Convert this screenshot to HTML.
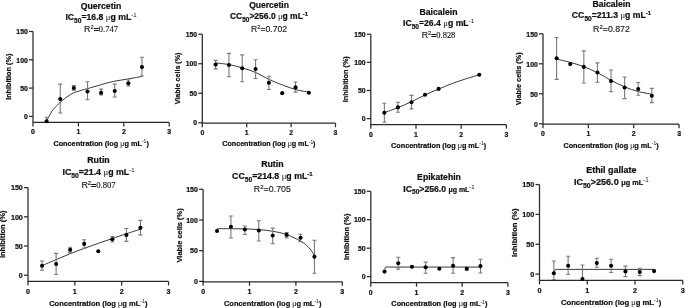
<!DOCTYPE html>
<html><head><meta charset="utf-8"><style>
html,body{-webkit-font-smoothing:antialiased;margin:0;padding:0;background:#fff;width:685px;height:308px;overflow:hidden}
svg{display:block;will-change:transform}
text{font-family:"Liberation Sans",sans-serif;fill:#111}
.b{font-weight:bold;stroke:#111;stroke-width:0.22px}
.n{stroke:none}
.n{font-weight:normal}
.r{font-weight:normal;fill:#111;stroke:#111;stroke-width:0.12px}
.sf{font-family:"Liberation Serif",serif;font-weight:normal}
.ax{stroke:#2a2a2a;stroke-width:1.25;fill:none}
.eb{stroke:#7a7a7a;stroke-width:1.1;fill:none}
.cv{stroke:#222;stroke-width:0.9;fill:none}
circle{fill:#000}
</style></head><body>
<svg width="685" height="308" viewBox="0 0 685 308">
<g>
<path d="M33 31.5V122.46H169.2" class="ax"/>
<path d="M29 116.4H33" class="ax"/>
<text x="27.8" y="119.1" class="b" style="font-size:6.90px" text-anchor="end">0</text>
<path d="M29 88.1H33" class="ax"/>
<text x="27.8" y="90.8" class="b" style="font-size:6.90px" text-anchor="end">50</text>
<path d="M29 59.8H33" class="ax"/>
<text x="27.8" y="62.5" class="b" style="font-size:6.90px" text-anchor="end">100</text>
<path d="M29 31.5H33" class="ax"/>
<text x="27.8" y="34.2" class="b" style="font-size:6.90px" text-anchor="end">150</text>
<path d="M33 122.46V126.46" class="ax"/>
<text x="33" y="134.46" class="b" style="font-size:6.90px" text-anchor="middle">0</text>
<path d="M78.4 122.46V126.46" class="ax"/>
<text x="78.4" y="134.46" class="b" style="font-size:6.90px" text-anchor="middle">1</text>
<path d="M123.8 122.46V126.46" class="ax"/>
<text x="123.8" y="134.46" class="b" style="font-size:6.90px" text-anchor="middle">2</text>
<path d="M169.2 122.46V126.46" class="ax"/>
<text x="169.2" y="134.46" class="b" style="font-size:6.90px" text-anchor="middle">3</text>
<text x="101.1" y="145.86" class="b" style="font-size:7.30px" text-anchor="middle">Concentration (log <tspan class="n" style="font-weight:normal">&#956;</tspan>g mL<tspan class="n" style="font-size:5.00px" dy="-2.5">-1</tspan><tspan dy="2.5">)</tspan></text>
<text transform="translate(11 76.78) rotate(-90)" class="b" style="font-size:7.30px" text-anchor="middle">Inhibition (%)</text>
<path d="M46.20 121.80 C46.60 121.07 47.73 119.02 48.60 117.40 C49.47 115.78 50.45 113.62 51.40 112.10 C52.35 110.58 52.80 109.97 54.30 108.30 C55.80 106.63 58.02 104.20 60.40 102.10 C62.78 100.00 66.05 97.37 68.60 95.70 C71.15 94.03 72.53 93.28 75.70 92.10 C78.87 90.92 83.55 89.78 87.60 88.60 C91.65 87.42 96.38 86.03 100.00 85.00 C103.62 83.97 106.30 83.13 109.30 82.40 C112.30 81.67 115.12 81.13 118.00 80.60 C120.88 80.07 123.85 79.67 126.60 79.20 C129.35 78.73 131.92 78.27 134.50 77.80 C137.08 77.33 140.83 76.63 142.10 76.40" class="cv"/>
<path d="M46.62 117.19V121.21M44.62 117.19H48.62" class="eb"/>
<path d="M60.24 84.14V113M58.24 84.14H62.24M58.24 113H62.24" class="eb"/>
<path d="M73.86 85.67V90.08M71.86 85.67H75.86M71.86 90.08H75.86" class="eb"/>
<path d="M87.48 81.76V99.76M85.48 81.76H89.48M85.48 99.76H89.48" class="eb"/>
<path d="M101.1 89.12V94.84M99.1 89.12H103.1M99.1 94.84H103.1" class="eb"/>
<path d="M114.72 84.08V97.04M112.72 84.08H116.72M112.72 97.04H116.72" class="eb"/>
<path d="M128.34 80.06V86.01M126.34 80.06H130.34M126.34 86.01H130.34" class="eb"/>
<path d="M141.96 57.31V75.93M139.96 57.31H143.96M139.96 75.93H143.96" class="eb"/>
<circle cx="46.62" cy="121.21" r="2.05"/>
<circle cx="60.24" cy="98.97" r="2.05"/>
<circle cx="73.86" cy="87.99" r="2.05"/>
<circle cx="87.48" cy="91.5" r="2.05"/>
<circle cx="101.1" cy="92.68" r="2.05"/>
<circle cx="114.72" cy="90.93" r="2.05"/>
<circle cx="128.34" cy="83.35" r="2.05"/>
<circle cx="141.96" cy="67.04" r="2.05"/>
<text x="101" y="8.5" class="b" style="font-size:8.70px" text-anchor="middle">Quercetin</text>
<text x="101" y="19.5" class="b" style="font-size:8.70px" text-anchor="middle">IC<tspan style="font-size:6.60px" dy="3">50</tspan><tspan dy="-3">=16.8 </tspan><tspan class="n" style="font-family:'Liberation Serif',serif">&#956;</tspan>g mL<tspan class="n" style="font-size:6.00px" dy="-3">-1</tspan></text>
<text x="101" y="32" class="r" style="font-size:8.80px" text-anchor="middle">R<tspan style="font-size:5.80px" dy="-3.1">2</tspan><tspan dy="3.1" style="stroke-width:0.45px">=</tspan><tspan class="sf" style="font-size:8.50px">0.747</tspan></text>
</g>
<g>
<path d="M202.3 34.19V123.2H335.5" class="ax"/>
<path d="M198.3 122.8H202.3" class="ax"/>
<text x="197.1" y="125.44" class="b" style="font-size:6.75px" text-anchor="end">0</text>
<path d="M198.3 93.27H202.3" class="ax"/>
<text x="197.1" y="95.91" class="b" style="font-size:6.75px" text-anchor="end">50</text>
<path d="M198.3 63.73H202.3" class="ax"/>
<text x="197.1" y="66.37" class="b" style="font-size:6.75px" text-anchor="end">100</text>
<path d="M198.3 34.19H202.3" class="ax"/>
<text x="197.1" y="36.84" class="b" style="font-size:6.75px" text-anchor="end">150</text>
<path d="M202.3 123.2V127.2" class="ax"/>
<text x="202.3" y="134.94" class="b" style="font-size:6.75px" text-anchor="middle">0</text>
<path d="M246.7 123.2V127.2" class="ax"/>
<text x="246.7" y="134.94" class="b" style="font-size:6.75px" text-anchor="middle">1</text>
<path d="M291.1 123.2V127.2" class="ax"/>
<text x="291.1" y="134.94" class="b" style="font-size:6.75px" text-anchor="middle">2</text>
<path d="M335.5 123.2V127.2" class="ax"/>
<text x="335.5" y="134.94" class="b" style="font-size:6.75px" text-anchor="middle">3</text>
<text x="268.9" y="146.08" class="b" style="font-size:7.14px" text-anchor="middle">Concentration (log <tspan class="n" style="font-weight:normal">&#956;</tspan>g mL<tspan class="n" style="font-size:4.89px" dy="-2.44">-1</tspan><tspan dy="2.44">)</tspan></text>
<text transform="translate(180.1 78.45) rotate(-90)" class="b" style="font-size:7.14px" text-anchor="middle">Viable cells (%)</text>
<path d="M215.62 62.90 C217.84 63.19 224.50 63.79 228.94 64.62 C233.38 65.44 237.82 66.56 242.26 67.86 C246.70 69.17 251.14 70.55 255.58 72.47 C260.02 74.39 264.46 77.32 268.90 79.38 C273.34 81.45 277.78 83.18 282.22 84.88 C286.66 86.57 291.10 88.31 295.54 89.54 C299.98 90.77 306.64 91.81 308.86 92.26" class="cv"/>
<path d="M215.62 60.42V68.87M213.62 60.42H217.62M213.62 68.87H217.62" class="eb"/>
<path d="M228.94 53.33V76.73M226.94 53.33H230.94M226.94 76.73H230.94" class="eb"/>
<path d="M242.26 54.87V81.69M240.26 54.87H244.26M240.26 81.69H244.26" class="eb"/>
<path d="M255.58 59.71V78.5M253.58 59.71H257.58M253.58 78.5H257.58" class="eb"/>
<path d="M268.9 76.31V89.54M266.9 76.31H270.9M266.9 89.54H270.9" class="eb"/>
<path d="M295.54 82.04V92.08M293.54 82.04H297.54M293.54 92.08H297.54" class="eb"/>
<circle cx="215.62" cy="64.62" r="2.05"/>
<circle cx="228.94" cy="65.03" r="2.05"/>
<circle cx="242.26" cy="68.28" r="2.05"/>
<circle cx="255.58" cy="69.05" r="2.05"/>
<circle cx="268.9" cy="82.69" r="2.05"/>
<circle cx="282.22" cy="93.15" r="2.05"/>
<circle cx="295.54" cy="87.42" r="2.05"/>
<circle cx="308.86" cy="92.73" r="2.05"/>
<text x="269" y="7.6" class="b" style="font-size:8.51px" text-anchor="middle">Quercetin</text>
<text x="269" y="18.8" class="b" style="font-size:8.51px" text-anchor="middle">CC<tspan style="font-size:6.45px" dy="2.93">50</tspan><tspan dy="-2.93">>256.0 </tspan><tspan class="n" style="font-family:'Liberation Serif',serif">&#956;</tspan>g mL<tspan class="b" style="font-size:5.87px" dy="-2.93">-1</tspan></text>
<text x="269" y="32" class="r" style="font-size:8.61px" text-anchor="middle">R<tspan style="font-size:5.87px" dy="-3.13">2</tspan><tspan dy="3.13">=0.702</tspan></text>
</g>
<g>
<path d="M370.8 34.19V124.63H506.4" class="ax"/>
<path d="M366.8 118.6H370.8" class="ax"/>
<text x="365.6" y="121.29" class="b" style="font-size:6.87px" text-anchor="end">0</text>
<path d="M366.8 90.47H370.8" class="ax"/>
<text x="365.6" y="93.15" class="b" style="font-size:6.87px" text-anchor="end">50</text>
<path d="M366.8 62.33H370.8" class="ax"/>
<text x="365.6" y="65.02" class="b" style="font-size:6.87px" text-anchor="end">100</text>
<path d="M366.8 34.19H370.8" class="ax"/>
<text x="365.6" y="36.88" class="b" style="font-size:6.87px" text-anchor="end">150</text>
<path d="M370.8 124.63V128.63" class="ax"/>
<text x="370.8" y="136.57" class="b" style="font-size:6.87px" text-anchor="middle">0</text>
<path d="M416 124.63V128.63" class="ax"/>
<text x="416" y="136.57" class="b" style="font-size:6.87px" text-anchor="middle">1</text>
<path d="M461.2 124.63V128.63" class="ax"/>
<text x="461.2" y="136.57" class="b" style="font-size:6.87px" text-anchor="middle">2</text>
<path d="M506.4 124.63V128.63" class="ax"/>
<text x="506.4" y="136.57" class="b" style="font-size:6.87px" text-anchor="middle">3</text>
<text x="438.6" y="147.92" class="b" style="font-size:7.27px" text-anchor="middle">Concentration (log <tspan class="n" style="font-weight:normal">&#956;</tspan>g mL<tspan class="n" style="font-size:4.98px" dy="-2.49">-1</tspan><tspan dy="2.49">)</tspan></text>
<text transform="translate(348.1 79.21) rotate(-90)" class="b" style="font-size:7.27px" text-anchor="middle">Inhibition (%)</text>
<path d="M384.36 112.69 C386.62 111.85 393.40 109.46 397.92 107.63 C402.44 105.80 406.96 103.83 411.48 101.72 C416.00 99.61 420.52 97.08 425.04 94.97 C429.56 92.86 434.08 90.96 438.60 89.06 C443.12 87.15 447.64 85.24 452.16 83.54 C456.68 81.85 461.20 80.33 465.72 78.87 C470.24 77.42 477.02 75.50 479.28 74.82" class="cv"/>
<path d="M384.36 103.18V122.2M382.36 103.18H386.36M382.36 122.2H386.36" class="eb"/>
<path d="M397.92 102.23V112.3M395.92 102.23H399.92M395.92 112.3H399.92" class="eb"/>
<path d="M411.48 95.42V108.92M409.48 95.42H413.48M409.48 108.92H413.48" class="eb"/>
<circle cx="384.36" cy="112.69" r="2.05"/>
<circle cx="397.92" cy="107.4" r="2.05"/>
<circle cx="411.48" cy="102.23" r="2.05"/>
<circle cx="425.04" cy="94.8" r="2.05"/>
<circle cx="438.6" cy="88.89" r="2.05"/>
<circle cx="479.28" cy="74.82" r="2.05"/>
<text x="438.5" y="14.9" class="b" style="font-size:8.66px" text-anchor="middle">Baicalein</text>
<text x="438.5" y="26" class="b" style="font-size:8.66px" text-anchor="middle">IC<tspan style="font-size:6.57px" dy="2.99">50</tspan><tspan dy="-2.99">=26.4 </tspan><tspan class="n" style="font-family:'Liberation Serif',serif">&#956;</tspan>g mL<tspan class="n" style="font-size:5.97px" dy="-2.99">-1</tspan></text>
<text x="438.5" y="38.2" class="r" style="font-size:8.76px" text-anchor="middle">R<tspan style="font-size:5.77px" dy="-3.09">2</tspan><tspan dy="3.09" style="stroke-width:0.45px">=</tspan><tspan class="sf" style="font-size:8.46px">0.828</tspan></text>
</g>
<g>
<path d="M543 33.8V124.2H679.05" class="ax"/>
<path d="M539 123.8H543" class="ax"/>
<text x="537.8" y="126.5" class="b" style="font-size:6.89px" text-anchor="end">0</text>
<path d="M539 93.8H543" class="ax"/>
<text x="537.8" y="96.5" class="b" style="font-size:6.89px" text-anchor="end">50</text>
<path d="M539 63.8H543" class="ax"/>
<text x="537.8" y="66.5" class="b" style="font-size:6.89px" text-anchor="end">100</text>
<path d="M539 33.8H543" class="ax"/>
<text x="537.8" y="36.5" class="b" style="font-size:6.89px" text-anchor="end">150</text>
<path d="M543 124.2V128.2" class="ax"/>
<text x="543" y="136.19" class="b" style="font-size:6.89px" text-anchor="middle">0</text>
<path d="M588.35 124.2V128.2" class="ax"/>
<text x="588.35" y="136.19" class="b" style="font-size:6.89px" text-anchor="middle">1</text>
<path d="M633.7 124.2V128.2" class="ax"/>
<text x="633.7" y="136.19" class="b" style="font-size:6.89px" text-anchor="middle">2</text>
<path d="M679.05 124.2V128.2" class="ax"/>
<text x="679.05" y="136.19" class="b" style="font-size:6.89px" text-anchor="middle">3</text>
<text x="611.02" y="147.57" class="b" style="font-size:7.29px" text-anchor="middle">Concentration (log <tspan class="n" style="font-weight:normal">&#956;</tspan>g mL<tspan class="n" style="font-size:4.99px" dy="-2.5">-1</tspan><tspan dy="2.5">)</tspan></text>
<text transform="translate(520.5 78.8) rotate(-90)" class="b" style="font-size:7.29px" text-anchor="middle">Viable cells (%)</text>
<path d="M556.61 59.12 C558.87 59.66 565.68 61.10 570.21 62.36 C574.75 63.62 579.28 64.96 583.82 66.68 C588.35 68.40 592.88 70.41 597.42 72.68 C601.95 74.95 606.49 77.93 611.02 80.30 C615.56 82.67 620.10 85.03 624.63 86.90 C629.16 88.77 633.70 90.30 638.24 91.52 C642.77 92.74 649.57 93.77 651.84 94.22" class="cv"/>
<path d="M556.61 37.52V79.4M554.61 37.52H558.61M554.61 79.4H558.61" class="eb"/>
<path d="M583.82 50.84V83.06M581.82 50.84H585.82M581.82 83.06H585.82" class="eb"/>
<path d="M597.42 62.9V82.22M595.42 62.9H599.42M595.42 82.22H599.42" class="eb"/>
<path d="M611.02 70.04V91.82M609.02 70.04H613.02M609.02 91.82H613.02" class="eb"/>
<path d="M624.63 77V98.6M622.63 77H626.63M622.63 98.6H626.63" class="eb"/>
<path d="M638.24 82.52V95.18M636.24 82.52H640.24M636.24 95.18H640.24" class="eb"/>
<path d="M651.84 88.4V102.62M649.84 88.4H653.84M649.84 102.62H653.84" class="eb"/>
<circle cx="556.61" cy="58.28" r="2.05"/>
<circle cx="570.21" cy="64.1" r="2.05"/>
<circle cx="583.82" cy="66.92" r="2.05"/>
<circle cx="597.42" cy="72.56" r="2.05"/>
<circle cx="611.02" cy="81.02" r="2.05"/>
<circle cx="624.63" cy="87.5" r="2.05"/>
<circle cx="638.24" cy="89" r="2.05"/>
<circle cx="651.84" cy="95.72" r="2.05"/>
<text x="611.5" y="6.5" class="b" style="font-size:8.69px" text-anchor="middle">Baicalein</text>
<text x="611.5" y="17.9" class="b" style="font-size:8.69px" text-anchor="middle">CC<tspan style="font-size:6.59px" dy="3">50</tspan><tspan dy="-3">=211.3 </tspan><tspan class="n" style="font-family:'Liberation Serif',serif">&#956;</tspan>g mL<tspan class="b" style="font-size:5.99px" dy="-3">-1</tspan></text>
<text x="611.5" y="32" class="r" style="font-size:8.79px" text-anchor="middle">R<tspan style="font-size:5.99px" dy="-3.2">2</tspan><tspan dy="3.2">=0.872</tspan></text>
</g>
<g>
<path d="M28 187.6V281.44H168.55" class="ax"/>
<path d="M24 275.2H28" class="ax"/>
<text x="22.8" y="277.99" class="b" style="font-size:7.12px" text-anchor="end">0</text>
<path d="M24 246H28" class="ax"/>
<text x="22.8" y="248.79" class="b" style="font-size:7.12px" text-anchor="end">50</text>
<path d="M24 216.8H28" class="ax"/>
<text x="22.8" y="219.59" class="b" style="font-size:7.12px" text-anchor="end">100</text>
<path d="M24 187.6H28" class="ax"/>
<text x="22.8" y="190.39" class="b" style="font-size:7.12px" text-anchor="end">150</text>
<path d="M28 281.44V285.44" class="ax"/>
<text x="28" y="293.82" class="b" style="font-size:7.12px" text-anchor="middle">0</text>
<path d="M74.85 281.44V285.44" class="ax"/>
<text x="74.85" y="293.82" class="b" style="font-size:7.12px" text-anchor="middle">1</text>
<path d="M121.7 281.44V285.44" class="ax"/>
<text x="121.7" y="293.82" class="b" style="font-size:7.12px" text-anchor="middle">2</text>
<path d="M168.55 281.44V285.44" class="ax"/>
<text x="168.55" y="293.82" class="b" style="font-size:7.12px" text-anchor="middle">3</text>
<text x="98.28" y="305.59" class="b" style="font-size:7.53px" text-anchor="middle">Concentration (log <tspan class="n" style="font-weight:normal">&#956;</tspan>g mL<tspan class="n" style="font-size:5.16px" dy="-2.58">-1</tspan><tspan dy="2.58">)</tspan></text>
<text transform="translate(5.1 234.32) rotate(-90)" class="b" style="font-size:7.53px" text-anchor="middle">Inhibition (%)</text>
<path d="M42.00 265.60 C44.33 264.62 51.28 261.70 56.00 259.70 C60.72 257.70 65.53 255.52 70.30 253.60 C75.07 251.68 79.90 249.92 84.60 248.20 C89.30 246.48 93.92 244.90 98.50 243.30 C103.08 241.70 107.45 240.20 112.10 238.60 C116.75 237.00 121.67 235.27 126.40 233.70 C131.13 232.13 138.15 229.95 140.50 229.20" class="cv"/>
<path d="M42.05 261.01V270.29M40.05 261.01H44.05M40.05 270.29H44.05" class="eb"/>
<path d="M56.11 253.42V274.5M54.11 253.42H58.11M54.11 274.5H58.11" class="eb"/>
<path d="M70.16 247.28V252.42M68.16 247.28H72.16M68.16 252.42H72.16" class="eb"/>
<path d="M84.22 239.69V248.39M82.22 239.69H86.22M82.22 248.39H86.22" class="eb"/>
<path d="M112.33 236.48V241.97M110.33 236.48H114.33M110.33 241.97H114.33" class="eb"/>
<path d="M126.39 228.48V241.39M124.39 228.48H128.38M124.39 241.39H128.38" class="eb"/>
<path d="M140.44 220.42V234.85M138.44 220.42H142.44M138.44 234.85H142.44" class="eb"/>
<circle cx="42.05" cy="265.68" r="2.05"/>
<circle cx="56.11" cy="263.99" r="2.05"/>
<circle cx="70.16" cy="249.8" r="2.05"/>
<circle cx="84.22" cy="243.9" r="2.05"/>
<circle cx="98.28" cy="251.31" r="2.05"/>
<circle cx="112.33" cy="239.28" r="2.05"/>
<circle cx="126.39" cy="234.96" r="2.05"/>
<circle cx="140.44" cy="227.84" r="2.05"/>
<text x="98.5" y="163.3" class="b" style="font-size:8.80px" text-anchor="middle">Rutin</text>
<text x="98.5" y="175" class="b" style="font-size:8.80px" text-anchor="middle">IC<tspan style="font-size:6.68px" dy="3.04">50</tspan><tspan dy="-3.04">=21.4 </tspan><tspan class="n" style="font-family:'Liberation Serif',serif">&#956;</tspan>g mL<tspan class="n" style="font-size:6.07px" dy="-3.04">-1</tspan></text>
<text x="98.5" y="188" class="r" style="font-size:8.91px" text-anchor="middle">R<tspan style="font-size:5.87px" dy="-3.14">2</tspan><tspan dy="3.14" style="stroke-width:0.45px">=</tspan><tspan class="sf" style="font-size:8.60px">0.807</tspan></text>
</g>
<g>
<path d="M203.1 189.3V281.8H342.3" class="ax"/>
<path d="M199.1 281.4H203.1" class="ax"/>
<text x="197.9" y="284.16" class="b" style="font-size:7.05px" text-anchor="end">0</text>
<path d="M199.1 250.7H203.1" class="ax"/>
<text x="197.9" y="253.46" class="b" style="font-size:7.05px" text-anchor="end">50</text>
<path d="M199.1 220H203.1" class="ax"/>
<text x="197.9" y="222.76" class="b" style="font-size:7.05px" text-anchor="end">100</text>
<path d="M199.1 189.3H203.1" class="ax"/>
<text x="197.9" y="192.06" class="b" style="font-size:7.05px" text-anchor="end">150</text>
<path d="M203.1 281.8V285.8" class="ax"/>
<text x="203.1" y="294.06" class="b" style="font-size:7.05px" text-anchor="middle">0</text>
<path d="M249.5 281.8V285.8" class="ax"/>
<text x="249.5" y="294.06" class="b" style="font-size:7.05px" text-anchor="middle">1</text>
<path d="M295.9 281.8V285.8" class="ax"/>
<text x="295.9" y="294.06" class="b" style="font-size:7.05px" text-anchor="middle">2</text>
<path d="M342.3 281.8V285.8" class="ax"/>
<text x="342.3" y="294.06" class="b" style="font-size:7.05px" text-anchor="middle">3</text>
<text x="272.7" y="305.72" class="b" style="font-size:7.46px" text-anchor="middle">Concentration (log <tspan class="n" style="font-weight:normal">&#956;</tspan>g mL<tspan class="n" style="font-size:5.11px" dy="-2.56">-1</tspan><tspan dy="2.56">)</tspan></text>
<text transform="translate(181.5 235.42) rotate(-90)" class="b" style="font-size:7.46px" text-anchor="middle">Viable cells (%)</text>
<path d="M217.00 228.70 C219.33 228.70 226.33 228.67 231.00 228.70 C235.67 228.73 240.33 228.75 245.00 228.90 C249.67 229.05 254.33 229.20 259.00 229.60 C263.67 230.00 268.38 230.47 273.00 231.30 C277.62 232.13 282.13 232.98 286.70 234.60 C291.27 236.22 297.10 239.22 300.40 241.00 C303.70 242.78 304.65 243.67 306.50 245.30 C308.35 246.93 310.15 248.93 311.50 250.80 C312.85 252.67 314.08 255.55 314.60 256.50" class="cv"/>
<path d="M230.94 216.01V237.99M228.94 216.01H232.94M228.94 237.99H232.94" class="eb"/>
<path d="M244.86 226.02V234.49M242.86 226.02H246.86M242.86 234.49H246.86" class="eb"/>
<path d="M258.78 220.68V241M256.78 220.68H260.78M256.78 241H260.78" class="eb"/>
<path d="M272.7 228.17V243.7M270.7 228.17H274.7M270.7 243.7H274.7" class="eb"/>
<path d="M286.62 232.65V237.99M284.62 232.65H288.62M284.62 237.99H288.62" class="eb"/>
<path d="M300.54 234.18V241.61M298.54 234.18H302.54M298.54 241.61H302.54" class="eb"/>
<path d="M314.46 240.26V273.3M312.46 240.26H316.46M312.46 273.3H316.46" class="eb"/>
<circle cx="217.02" cy="230.99" r="2.05"/>
<circle cx="230.94" cy="226.75" r="2.05"/>
<circle cx="244.86" cy="229.52" r="2.05"/>
<circle cx="258.78" cy="230.5" r="2.05"/>
<circle cx="272.7" cy="235.53" r="2.05"/>
<circle cx="286.62" cy="234.92" r="2.05"/>
<circle cx="300.54" cy="237.68" r="2.05"/>
<circle cx="314.46" cy="256.72" r="2.05"/>
<text x="272.4" y="167" class="b" style="font-size:8.77px" text-anchor="middle">Rutin</text>
<text x="272.4" y="178.6" class="b" style="font-size:8.77px" text-anchor="middle">CC<tspan style="font-size:6.65px" dy="3.02">50</tspan><tspan dy="-3.02">=214.8 </tspan><tspan class="n" style="font-family:'Liberation Serif',serif">&#956;</tspan>g mL<tspan class="b" style="font-size:6.05px" dy="-3.02">-1</tspan></text>
<text x="272.4" y="192" class="r" style="font-size:8.87px" text-anchor="middle">R<tspan style="font-size:6.05px" dy="-3.23">2</tspan><tspan dy="3.23">=0.705</tspan></text>
</g>
<g>
<path d="M370.8 191.3V282.69H507.9" class="ax"/>
<path d="M366.8 276.6H370.8" class="ax"/>
<text x="365.6" y="279.32" class="b" style="font-size:6.95px" text-anchor="end">0</text>
<path d="M366.8 248.17H370.8" class="ax"/>
<text x="365.6" y="250.88" class="b" style="font-size:6.95px" text-anchor="end">50</text>
<path d="M366.8 219.73H370.8" class="ax"/>
<text x="365.6" y="222.45" class="b" style="font-size:6.95px" text-anchor="end">100</text>
<path d="M366.8 191.3H370.8" class="ax"/>
<text x="365.6" y="194.01" class="b" style="font-size:6.95px" text-anchor="end">150</text>
<path d="M370.8 282.69V286.69" class="ax"/>
<text x="370.8" y="294.77" class="b" style="font-size:6.95px" text-anchor="middle">0</text>
<path d="M416.5 282.69V286.69" class="ax"/>
<text x="416.5" y="294.77" class="b" style="font-size:6.95px" text-anchor="middle">1</text>
<path d="M462.2 282.69V286.69" class="ax"/>
<text x="462.2" y="294.77" class="b" style="font-size:6.95px" text-anchor="middle">2</text>
<path d="M507.9 282.69V286.69" class="ax"/>
<text x="507.9" y="294.77" class="b" style="font-size:6.95px" text-anchor="middle">3</text>
<text x="439.35" y="306.24" class="b" style="font-size:7.35px" text-anchor="middle">Concentration (log <tspan class="n" style="font-weight:normal">&#956;</tspan>g mL<tspan class="n" style="font-size:5.03px" dy="-2.52">-1</tspan><tspan dy="2.52">)</tspan></text>
<text transform="translate(348.5 236.79) rotate(-90)" class="b" style="font-size:7.35px" text-anchor="middle">Inhibition (%)</text>
<path d="M385.06 269.43 L385.15 267.73 L385.52 267.22 L386.11 267.07 L480.48 267.07" class="cv"/>
<path d="M398.22 257.21V269.15M396.22 257.21H400.22M396.22 269.15H400.22" class="eb"/>
<path d="M425.64 262.1V273.3M423.64 262.1H427.64M423.64 273.3H427.64" class="eb"/>
<path d="M453.06 257.61V273.3M451.06 257.61H455.06M451.06 273.3H455.06" class="eb"/>
<path d="M466.77 267.33V270.29M464.77 267.33H468.77M464.77 270.29H468.77" class="eb"/>
<path d="M480.48 259.31V273.02M478.48 259.31H482.48M478.48 273.02H482.48" class="eb"/>
<circle cx="384.51" cy="271.6" r="2.05"/>
<circle cx="398.22" cy="263.29" r="2.05"/>
<circle cx="411.93" cy="266.7" r="2.05"/>
<circle cx="425.64" cy="267.33" r="2.05"/>
<circle cx="439.35" cy="268.81" r="2.05"/>
<circle cx="453.06" cy="265.68" r="2.05"/>
<circle cx="466.77" cy="268.81" r="2.05"/>
<circle cx="480.48" cy="266.08" r="2.05"/>
<text x="439" y="180.1" class="b" style="font-size:8.66px" text-anchor="middle">Epikatehin</text>
<text x="439" y="191.5" class="b" style="font-size:8.66px" text-anchor="middle">IC<tspan style="font-size:6.57px" dy="2.98">50</tspan><tspan dy="-2.98">>256.0 </tspan><tspan style="font-size:6.96px">&#956;g mL<tspan class="n" style="font-size:5.97px" dy="-2.98">-1</tspan></tspan></text>
</g>
<g>
<path d="M539.5 184.55V280.47H682.75" class="ax"/>
<path d="M535.5 274.1H539.5" class="ax"/>
<text x="534.3" y="276.94" class="b" style="font-size:7.26px" text-anchor="end">0</text>
<path d="M535.5 244.25H539.5" class="ax"/>
<text x="534.3" y="247.09" class="b" style="font-size:7.26px" text-anchor="end">50</text>
<path d="M535.5 214.4H539.5" class="ax"/>
<text x="534.3" y="217.24" class="b" style="font-size:7.26px" text-anchor="end">100</text>
<path d="M535.5 184.55H539.5" class="ax"/>
<text x="534.3" y="187.39" class="b" style="font-size:7.26px" text-anchor="end">150</text>
<path d="M539.5 280.47V284.47" class="ax"/>
<text x="539.5" y="293.09" class="b" style="font-size:7.26px" text-anchor="middle">0</text>
<path d="M587.25 280.47V284.47" class="ax"/>
<text x="587.25" y="293.09" class="b" style="font-size:7.26px" text-anchor="middle">1</text>
<path d="M635 280.47V284.47" class="ax"/>
<text x="635" y="293.09" class="b" style="font-size:7.26px" text-anchor="middle">2</text>
<path d="M682.75 280.47V284.47" class="ax"/>
<text x="682.75" y="293.09" class="b" style="font-size:7.26px" text-anchor="middle">3</text>
<text x="611.12" y="305.08" class="b" style="font-size:7.68px" text-anchor="middle">Concentration (log <tspan class="n" style="font-weight:normal">&#956;</tspan>g mL<tspan class="n" style="font-size:5.26px" dy="-2.63">-1</tspan><tspan dy="2.63">)</tspan></text>
<text transform="translate(516.5 232.71) rotate(-90)" class="b" style="font-size:7.68px" text-anchor="middle">Inhibition (%)</text>
<path d="M553.83 272.91 L554.30 271.00 L555.02 269.92 L555.97 269.50 L557.64 269.38 L654.10 269.38" class="cv"/>
<path d="M553.83 260.97V279.47M551.83 260.97H555.83M551.83 279.47H555.83" class="eb"/>
<path d="M568.15 256.19V274.52M566.15 256.19H570.15M566.15 274.52H570.15" class="eb"/>
<path d="M582.48 265.03V279M580.48 265.03H584.48" class="eb"/>
<path d="M596.8 258.28V267.29M594.8 258.28H598.8M594.8 267.29H598.8" class="eb"/>
<path d="M611.12 259.29V272.43M609.12 259.29H613.12M609.12 272.43H613.12" class="eb"/>
<path d="M625.45 266.1V276.61M623.45 266.1H627.45M623.45 276.61H627.45" class="eb"/>
<path d="M639.77 268.19V275.59M637.77 268.19H641.77M637.77 275.59H641.77" class="eb"/>
<circle cx="553.83" cy="273.26" r="2.05"/>
<circle cx="568.15" cy="265.68" r="2.05"/>
<circle cx="582.48" cy="279" r="2.05"/>
<circle cx="596.8" cy="263.12" r="2.05"/>
<circle cx="611.12" cy="265.68" r="2.05"/>
<circle cx="625.45" cy="271.41" r="2.05"/>
<circle cx="639.77" cy="272.01" r="2.05"/>
<circle cx="654.1" cy="271.12" r="2.05"/>
<text x="611.3" y="172.8" class="b" style="font-size:8.96px" text-anchor="middle">Ethil gallate</text>
<text x="611.3" y="184.9" class="b" style="font-size:9.09px" text-anchor="middle">IC<tspan style="font-size:6.90px" dy="3.13">50</tspan><tspan dy="-3.13">>256.0 </tspan><tspan style="font-size:7.31px">&#956;g mL<tspan class="n" style="font-size:6.27px" dy="-3.13">-1</tspan></tspan></text>
</g>
</svg>
</body></html>
